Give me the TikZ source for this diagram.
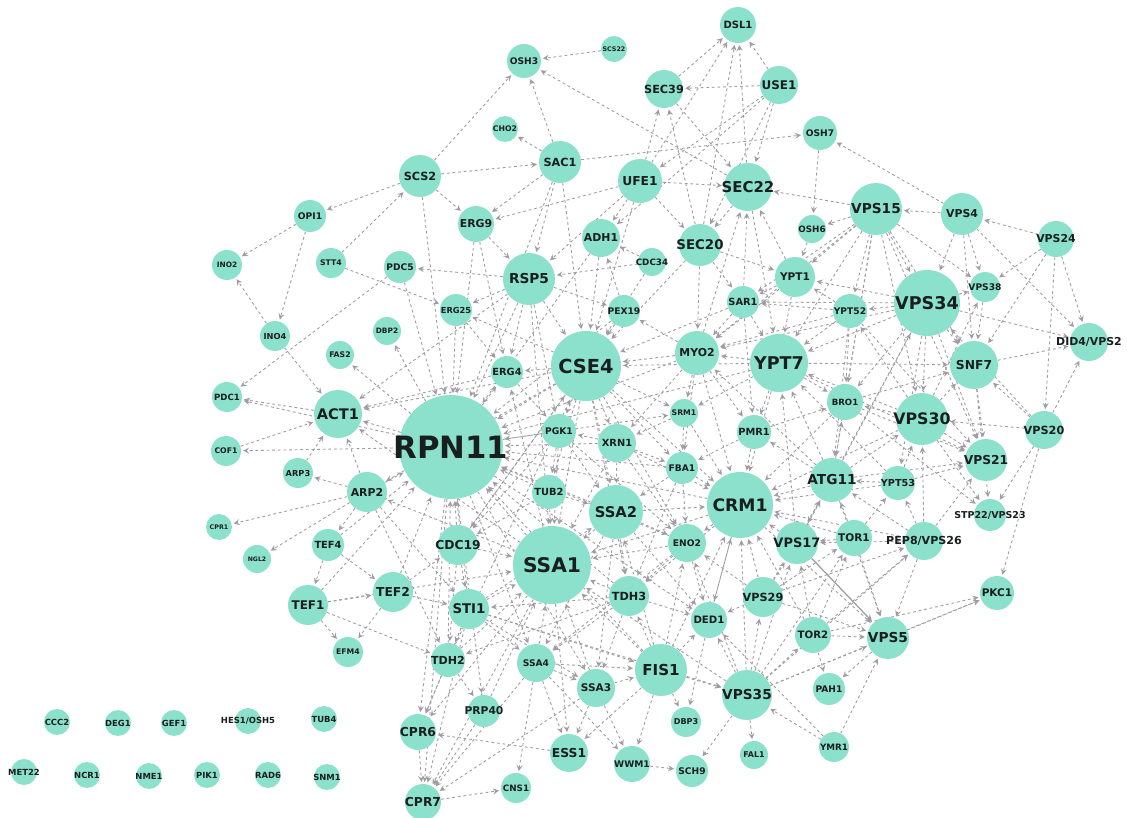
\documentclass[tikz,border=0pt]{standalone}
\usepackage{fontspec}
\setmainfont{DejaVu Sans}
\usepackage{tikz}
\usetikzlibrary{arrows}

\definecolor{mint}{RGB}{140,225,204}
\definecolor{linkgray}{RGB}{160,155,160}
\definecolor{ink}{RGB}{25,30,30}

\pgfdeclarelayer{bg}
\pgfsetlayers{bg,main}

% gene node: name, x, y, radius (px), font size (pt), text
\newcommand\gene[6]{%
  \node[gene, minimum size=#4*0.04cm,
        label={[genetext, font=\bfseries\fontsize{#5}{#5}\selectfont]center:#6}]
        (#1) at (#2,#3) {};}

\begin{document}
\begin{tikzpicture}[
            x = 0.02cm, y = -0.02cm, % pixel grid
            > = stealth, % arrow head style
            shorten > = 1pt, % don't touch arrow head to node
            gene/.style = {circle, fill=mint, draw=none, inner sep=0pt},
            genetext/.style = {text=ink, inner sep=0pt},
            link/.style = {->, draw=linkgray, line width=0.5pt,
                           dash pattern=on 1.6pt off 1.6pt}
        ]

  \useasboundingbox (0,0) rectangle (1127,818);

  % top
  \gene{osh3}{524}{61}{17}{5.2}{OSH3}
  \gene{scs22}{614}{49}{13}{3.6}{SCS22}
  \gene{dsl1}{738}{25}{18}{5.7}{DSL1}
  \gene{sec39}{664}{89}{19}{6.4}{SEC39}
  \gene{use1}{779}{85}{19}{6.8}{USE1}
  \gene{cho2}{505}{129}{13}{4.4}{CHO2}
  \gene{osh7}{820}{133}{17}{5.2}{OSH7}
  \gene{sac1}{560}{162}{21}{6.4}{SAC1}
  \gene{scs2}{420}{176}{21}{6.4}{SCS2}
  \gene{ufe1}{640}{181}{22}{7}{UFE1}
  \gene{sec22}{748}{187}{24}{8.5}{SEC22}
  \gene{vps15}{876}{209}{26}{7.8}{VPS15}
  \gene{vps4}{962}{214}{21}{6.2}{VPS4}
  \gene{opi1}{310}{216}{16}{5.2}{OPI1}
  \gene{erg9}{476}{224}{18}{6.2}{ERG9}
  \gene{adh1}{601}{238}{19}{6.2}{ADH1}
  \gene{sec20}{700}{245}{21}{7.6}{SEC20}
  \gene{osh6}{812}{229}{14}{5}{OSH6}
  \gene{vps24}{1056}{239}{18}{6.2}{VPS24}
  % upper middle
  \gene{ino2}{227}{265}{15}{4.2}{INO2}
  \gene{stt4}{331}{263}{15}{4.4}{STT4}
  \gene{pdc5}{400}{267}{16}{5.2}{PDC5}
  \gene{cdc34}{652}{262}{14}{5}{CDC34}
  \gene{rsp5}{529}{279}{26}{7.8}{RSP5}
  \gene{ypt1}{795}{277}{20}{6}{YPT1}
  \gene{vps34}{927}{303}{33}{10}{VPS34}
  \gene{vps38}{985}{287}{15}{5.2}{VPS38}
  \gene{sar1}{743}{302}{16}{5.6}{SAR1}
  \gene{ypt52}{850}{311}{17}{5.2}{YPT52}
  \gene{erg25}{456}{310}{16}{4.7}{ERG25}
  \gene{pex19}{624}{311}{16}{5.2}{PEX19}
  \gene{ino4}{275}{336}{15}{4.7}{INO4}
  \gene{dbp2}{387}{331}{14}{4.2}{DBP2}
  \gene{did4}{1089}{342}{19}{6.2}{DID4/VPS2}
  \gene{fas2}{340}{355}{14}{4.4}{FAS2}
  \gene{cse4}{586}{366}{35}{11}{CSE4}
  \gene{myo2}{697}{353}{22}{6.2}{MYO2}
  \gene{ypt7}{779}{363}{29}{10}{YPT7}
  \gene{snf7}{974}{365}{24}{7}{SNF7}
  \gene{erg4}{507}{372}{16}{5.6}{ERG4}
  % middle
  \gene{pdc1}{227}{397}{15}{4.9}{PDC1}
  \gene{act1}{338}{414}{24}{8.3}{ACT1}
  \gene{bro1}{845}{402}{18}{4.9}{BRO1}
  \gene{vps30}{922}{419}{26}{9}{VPS30}
  \gene{rpn11}{451}{447}{52}{17.5}{RPN11}
  \gene{srm1}{684}{413}{14}{4.4}{SRM1}
  \gene{pgk1}{559}{431}{17}{5.2}{PGK1}
  \gene{xrn1}{617}{443}{19}{5.6}{XRN1}
  \gene{pmr1}{754}{432}{17}{5.6}{PMR1}
  \gene{vps20}{1044}{430}{19}{6.4}{VPS20}
  \gene{cof1}{226}{451}{15}{4.4}{COF1}
  \gene{arp3}{298}{473}{15}{4.7}{ARP3}
  \gene{vps21}{986}{460}{21}{7}{VPS21}
  \gene{fba1}{682}{468}{16}{5.2}{FBA1}
  \gene{atg11}{832}{480}{22}{7.8}{ATG11}
  \gene{ypt53}{898}{483}{17}{5.5}{YPT53}
  \gene{tub2}{549}{492}{17}{5.6}{TUB2}
  \gene{arp2}{367}{492}{20}{6.2}{ARP2}
  \gene{ssa2}{616}{512}{27}{8.4}{SSA2}
  \gene{crm1}{740}{505}{33}{9.8}{CRM1}
  \gene{stp22}{990}{515}{16}{5.4}{STP22/VPS23}
  % lower middle
  \gene{cpr1}{219}{527}{13}{3.6}{CPR1}
  \gene{tef4}{328}{545}{16}{5.6}{TEF4}
  \gene{cdc19}{458}{545}{20}{7}{CDC19}
  \gene{vps17}{797}{543}{21}{7.4}{VPS17}
  \gene{tor1}{854}{538}{18}{6}{TOR1}
  \gene{pep8}{924}{541}{19}{6.3}{PEP8/VPS26}
  \gene{ngl2}{257}{559}{14}{3.5}{NGL2}
  \gene{ssa1}{552}{565}{39}{11.5}{SSA1}
  \gene{eno2}{687}{543}{19}{5.2}{ENO2}
  \gene{tef2}{393}{592}{20}{7}{TEF2}
  \gene{tef1}{308}{605}{20}{6.8}{TEF1}
  \gene{sti1}{469}{609}{20}{7.6}{STI1}
  \gene{tdh3}{629}{596}{20}{6.4}{TDH3}
  \gene{vps29}{763}{597}{20}{6.4}{VPS29}
  \gene{ded1}{709}{620}{18}{5.8}{DED1}
  \gene{tor2}{813}{635}{18}{5.8}{TOR2}
  \gene{pkc1}{997}{593}{17}{6}{PKC1}
  \gene{vps5}{888}{638}{21}{7.8}{VPS5}
  % bottom
  \gene{efm4}{348}{652}{15}{4.4}{EFM4}
  \gene{tdh2}{448}{660}{17}{6.3}{TDH2}
  \gene{ssa4}{536}{663}{19}{5.2}{SSA4}
  \gene{fis1}{661}{670}{26}{8.6}{FIS1}
  \gene{ssa3}{596}{688}{19}{6}{SSA3}
  \gene{pah1}{829}{689}{16}{5.2}{PAH1}
  \gene{vps35}{747}{695}{25}{7.8}{VPS35}
  \gene{prp40}{484}{711}{16}{6.1}{PRP40}
  \gene{dbp3}{686}{722}{15}{4.6}{DBP3}
  \gene{cpr6}{418}{732}{18}{7}{CPR6}
  \gene{ess1}{569}{753}{19}{7}{ESS1}
  \gene{wwm1}{632}{764}{18}{5.2}{WWM1}
  \gene{fal1}{754}{755}{14}{4.5}{FAL1}
  \gene{ymr1}{834}{747}{15}{5}{YMR1}
  \gene{sch9}{692}{771}{16}{5.2}{SCH9}
  \gene{cns1}{516}{788}{15}{5}{CNS1}
  \gene{cpr7}{423}{802}{18}{7}{CPR7}
  % unlinked genes
  \gene{ccc2}{57}{722}{13}{4.8}{CCC2}
  \gene{deg1}{118}{723}{13}{4.8}{DEG1}
  \gene{gef1}{174}{723}{13}{4.8}{GEF1}
  \gene{hes1}{248}{721}{13}{4.8}{HES1/OSH5}
  \gene{tub4}{324}{719}{13}{4.8}{TUB4}
  \gene{met22}{24}{772}{13}{4.8}{MET22}
  \gene{ncr1}{87}{775}{13}{4.8}{NCR1}
  \gene{nme1}{149}{776}{13}{4.8}{NME1}
  \gene{pik1}{207}{775}{13}{4.8}{PIK1}
  \gene{rad6}{268}{775}{13}{4.8}{RAD6}
  \gene{snm1}{327}{777}{13}{4.8}{SNM1}

  \begin{pgfonlayer}{bg}
  % secretory / upper part
  \foreach \a/\b in {scs22/osh3, sac1/osh3, scs2/osh3, sec22/osh3,
      sec39/dsl1, use1/dsl1, ufe1/dsl1, sec20/dsl1, sec22/dsl1,
      use1/sec39, ufe1/sec39, sec20/sec39, sec39/sec22,
      use1/ufe1, use1/sec22, use1/sec20, use1/adh1,
      sac1/cho2, scs2/sac1, sac1/osh7, sac1/erg9, sac1/rsp5, sac1/cse4, sac1/rpn11,
      ufe1/sec22, ufe1/sec20, ufe1/adh1, ufe1/erg9, ufe1/rsp5, ufe1/cse4,
      osh7/osh6, vps4/osh7, vps15/sec22, ypt1/sec22, sar1/sec22, sec22/sec20,
      sec22/ypt7, vps15/osh6, vps4/vps15,
      scs2/opi1, stt4/scs2, scs2/erg9, scs2/rpn11,
      opi1/ino2, opi1/ino4, ino4/ino2, ino4/act1, pdc5/pdc1, stt4/erg25,
      rsp5/pdc5, pdc5/rpn11, erg9/rpn11, erg9/rsp5, erg9/erg4,
      cdc34/adh1, cdc34/rsp5, cdc34/cse4, sec20/ypt1, sec20/cse4, sec20/myo2,
      sec20/sar1, adh1/cse4, adh1/rpn11,
      rsp5/erg25, rsp5/erg4, rsp5/cse4, rsp5/rpn11, rsp5/act1, rsp5/pgk1,
      rsp5/ssa1, rsp5/pex19, erg25/rpn11, erg25/erg4, rpn11/dbp2, rpn11/fas2,
      act1/pdc1, rpn11/pdc1, cof1/act1, rpn11/cof1, arp3/act1, arp2/arp3,
      arp2/act1, rpn11/act1, erg4/act1, cse4/act1}
    \draw[link] (\a) -- (\b);
  % left and lower left
  \foreach \a/\b in {arp2/cpr1, arp2/ngl2, arp2/tef4, arp2/rpn11, arp2/sti1, arp2/tdh2,
      tef4/tef1, tef4/tef2, tef1/tef2, tef1/efm4, tef2/efm4, tef1/tdh2, tef2/sti1,
      tef1/rpn11, tef2/rpn11, tef1/ssa1, tef2/cdc19, tef4/rpn11,
      cdc19/rpn11, cdc19/sti1, cdc19/ssa1, cdc19/tdh2, cdc19/cse4,
      sti1/rpn11, sti1/tdh2, sti1/cpr6, sti1/ssa1, sti1/ssa4, sti1/fis1, sti1/ssa2,
      sti1/vps35, sti1/ssa3, sti1/cpr7,
      tdh2/cpr6, tdh2/prp40, tdh2/ssa1, tdh2/rpn11, tdh2/cse4,
      prp40/cpr7, prp40/ssa1, cpr6/cpr7, cpr7/cns1, ess1/cpr6, rpn11/cpr6,
      ssa4/ess1, ssa4/cns1, ssa4/ssa1, ssa4/fis1, ssa4/ssa3, ssa4/cpr7, ssa4/wwm1,
      ssa3/ess1, ssa3/ssa1, ssa3/fis1, ssa3/wwm1, ssa3/cpr7,
      fis1/dbp3, fis1/wwm1, fis1/ess1, fis1/ssa1, fis1/ssa2, fis1/tdh3, fis1/eno2,
      fis1/ded1, fis1/vps35, fis1/crm1, fis1/rpn11,
      wwm1/sch9, vps35/sch9, vps35/fal1, ymr1/vps35, ymr1/vps5, ymr1/ded1, ded1/dbp3}
    \draw[link] (\a) -- (\b);
  % retromer and lower right
  \foreach \a/\b in {vps35/vps29, vps35/vps17, vps35/vps5, vps35/pep8, vps35/tor2,
      vps35/ded1, vps35/crm1, vps35/pkc1, vps35/eno2, vps35/tor1, vps35/ssa1,
      vps29/vps5, pep8/vps5, tor2/vps5, tor1/vps5, vps5/pah1, tor2/pah1,
      vps5/pkc1, tor2/pkc1, atg11/vps5, crm1/vps5, vps20/pkc1,
      vps29/vps17, vps29/crm1, vps29/ded1, vps29/pep8, vps29/tor1, vps29/eno2,
      vps29/atg11, tor2/tor1, tor2/crm1, tor2/vps17, tor2/pep8,
      pep8/vps17, pep8/ypt53, pep8/vps21, pep8/atg11, pep8/crm1, pep8/vps30,
      tor1/atg11, tor1/ypt53, tor1/crm1, tor1/vps17, vps17/crm1, vps17/atg11, vps17/ypt7,
      ypt53/vps21, ypt53/atg11, ypt53/vps30, ypt53/ypt7, ypt53/crm1,
      atg11/crm1, atg11/ypt7, atg11/vps30, atg11/vps34, atg11/pmr1, atg11/bro1,
      atg11/vps21, atg11/myo2}
    \draw[link] (\a) -- (\b);
  \draw[draw=linkgray, line width=0.7pt, ->] (vps17) -- (vps5);
  % vacuolar part
  \foreach \a/\b in {vps20/stp22, vps30/stp22, bro1/stp22, snf7/stp22,
      vps20/snf7, vps20/did4, vps24/vps20, vps20/vps30, vps20/vps34,
      vps30/vps21, vps34/vps21, ypt7/vps21, bro1/vps21, vps15/vps21, snf7/vps21,
      snf7/did4, vps34/snf7, vps15/snf7, vps4/snf7, vps24/snf7, vps38/snf7,
      bro1/snf7, ypt7/snf7, vps30/snf7, vps4/did4, vps24/did4, vps34/did4,
      vps24/vps4, vps24/vps38, vps4/vps34, vps4/vps38,
      vps15/vps34, vps15/ypt1, vps15/ypt52, vps15/vps38, vps15/vps30, vps15/bro1,
      vps15/sar1, vps15/ypt7, vps15/atg11, vps15/myo2,
      vps34/vps38, vps34/vps30, vps34/ypt52, vps34/ypt1, vps34/bro1, vps34/ypt7,
      vps34/sar1, vps34/myo2, vps34/vps17, vps34/ypt53,
      vps30/bro1, vps30/ypt7, vps30/ypt52, vps30/crm1, vps30/vps38,
      ypt52/ypt1, ypt52/ypt7, ypt52/bro1, ypt52/sar1, ypt52/atg11, ypt52/vps21,
      ypt52/myo2, ypt1/sar1, ypt1/ypt7, ypt1/myo2, osh6/ypt1,
      sar1/myo2, sar1/ypt7, sar1/cse4, sar1/pmr1}
    \draw[link] (\a) -- (\b);
  % central part
  \foreach \a/\b in {ypt7/myo2, ypt7/pmr1, ypt7/bro1, ypt7/crm1, ypt7/cse4, ypt7/srm1,
      ypt7/rpn11, myo2/cse4, myo2/pex19, myo2/srm1, myo2/pmr1, myo2/crm1,
      myo2/xrn1, myo2/rpn11, myo2/fba1, myo2/sec22,
      pmr1/crm1, pmr1/bro1, pmr1/fba1, bro1/crm1,
      pex19/cse4, pex19/rpn11, pex19/adh1,
      cse4/erg4, cse4/pgk1, cse4/xrn1, cse4/srm1, cse4/ssa2, cse4/ssa1, cse4/crm1,
      cse4/tub2, cse4/rpn11, cse4/erg25, cse4/fba1, cse4/eno2, cse4/cdc19,
      cse4/arp2, cse4/tdh3, srm1/crm1, srm1/fba1, srm1/xrn1,
      xrn1/ssa2, xrn1/rpn11, xrn1/crm1, xrn1/fba1, xrn1/pgk1, xrn1/ssa1, xrn1/eno2,
      pgk1/rpn11, pgk1/ssa2, pgk1/tub2, pgk1/ssa1, pgk1/eno2, pgk1/cdc19,
      fba1/crm1, fba1/eno2, fba1/ssa2, fba1/tdh3, fba1/rpn11,
      tub2/rpn11, tub2/ssa1, tub2/ssa2, tub2/cdc19,
      ssa2/ssa1, ssa2/rpn11, ssa2/crm1, ssa2/eno2, ssa2/tdh3, ssa2/ssa4,
      ssa2/ssa3, ssa2/ded1, crm1/eno2, crm1/ded1, crm1/tdh3, crm1/ssa1, crm1/rpn11,
      eno2/ssa1, eno2/tdh3, eno2/ded1, eno2/rpn11, eno2/ssa4,
      tdh3/ssa1, tdh3/rpn11, tdh3/ssa4, tdh3/ssa3, tdh3/ded1, tdh3/tdh2, tdh3/sti1,
      ssa1/rpn11, ssa1/act1, ssa1/erg4, ssa1/cpr6, ssa1/cpr7, ssa1/ess1, ssa1/arp2,
      rpn11/erg4, rpn11/ssa4, rpn11/ssa3, rpn11/ded1, rpn11/cpr7, rpn11/srm1,
      rpn11/prp40, erg4/pgk1, ded1/crm1}
    \draw[link] (\a) -- (\b);
  \end{pgfonlayer}

\end{tikzpicture}
\end{document}
